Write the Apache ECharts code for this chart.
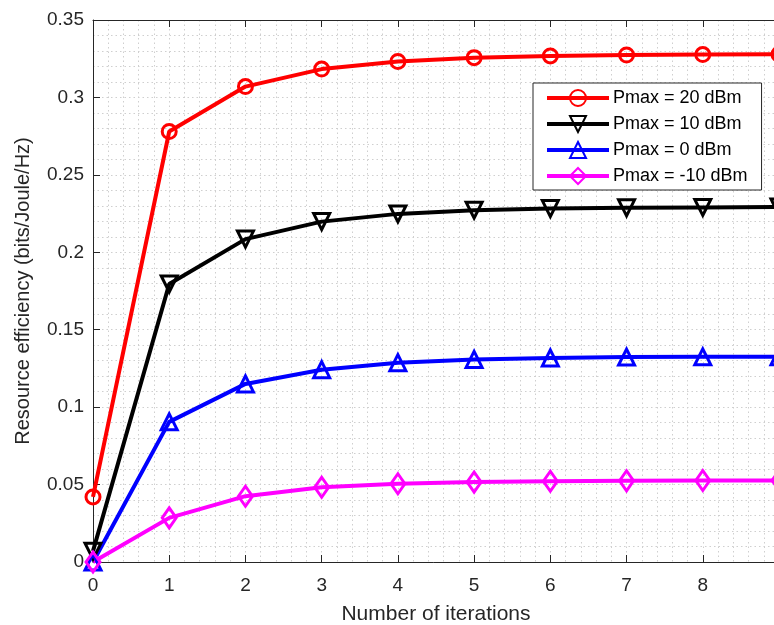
<!DOCTYPE html>
<html>
<head>
<meta charset="utf-8">
<script src="https://cdn.jsdelivr.net/npm/echarts@6/dist/echarts.min.js"></script>
<style>
  html, body { margin: 0; padding: 0; background: #fff; }
  #chart { width: 774px; height: 625px; }
</style>
</head>
<body>
<div id="chart"></div>
<script>
// Iteration index on the horizontal axis
const iterations = [0, 1, 2, 3, 4, 5, 6, 7, 8, 9];

// Resource efficiency (bits/Joule/Hz) per transmit power budget
const re20dBm  = [0.042, 0.278, 0.307, 0.3183, 0.3232, 0.3257, 0.3268, 0.3274, 0.3277, 0.3279];
const re10dBm  = [0.007, 0.1795, 0.2085, 0.2198, 0.2248, 0.2272, 0.2282, 0.2287, 0.2290, 0.2292];
const re0dBm   = [0.000, 0.0905, 0.1150, 0.1242, 0.1287, 0.1308, 0.1318, 0.1323, 0.1325, 0.1326];
const reM10dBm = [0.000, 0.0285, 0.0425, 0.0483, 0.0505, 0.0516, 0.0521, 0.0524, 0.0526, 0.0527];

const seriesNames = ['Pmax = 20 dBm', 'Pmax = 10 dBm', 'Pmax = 0 dBm', 'Pmax = -10 dBm'];

const FONT = 'Liberation Sans, Arial, Helvetica, sans-serif';
const AXIS_COLOR = '#262626';
const GRID_COLOR = '#cfcfcf';

function pairs(values) {
  return iterations.map((x, i) => [x, values[i]]);
}

function makeSeries(name, values, color, symbol, size, rotate) {
  return {
    name: name,
    type: 'line',
    data: pairs(values),
    symbol: symbol,
    symbolSize: size,
    symbolRotate: rotate || 0,
    showAllSymbol: true,
    lineStyle: { color: color, width: 4 },
    itemStyle: { color: 'rgba(255,255,255,0)', borderColor: color, borderWidth: 3 },
    emphasis: { disabled: true },
    clip: false,
    z: 3
  };
}

const chart = echarts.init(document.getElementById('chart'), null, { renderer: 'canvas' });

const gridLine = { show: true, lineStyle: { color: GRID_COLOR, type: [1.5, 3], width: 1 } };

chart.setOption({
  animation: false,
  backgroundColor: '#fff',
  textStyle: { fontFamily: FONT },
  grid: { left: 93, top: 20, width: 686, height: 542, containLabel: false, outerBoundsMode: 'none' },
  xAxis: [
    {
      type: 'value', min: 0, max: 9, interval: 1,
      position: 'bottom',
      name: 'Number of iterations',
      nameLocation: 'middle', nameGap: 42,
      nameTextStyle: { fontSize: 21, color: AXIS_COLOR, fontFamily: FONT },
      axisLine: { show: true, lineStyle: { color: AXIS_COLOR, width: 1 } },
      axisTick: { show: true, inside: true, length: 7, lineStyle: { color: AXIS_COLOR } },
      axisLabel: { fontSize: 19, color: AXIS_COLOR, margin: 14, fontFamily: FONT },
      splitLine: gridLine,
      minorTick: { show: false, splitNumber: 5 },
      minorSplitLine: gridLine
    },
    {
      type: 'value', min: 0, max: 9, interval: 1,
      position: 'top',
      axisLine: { show: true, lineStyle: { color: AXIS_COLOR, width: 1 } },
      axisTick: { show: true, inside: true, length: 7, lineStyle: { color: AXIS_COLOR } },
      axisLabel: { show: false },
      splitLine: { show: false }
    }
  ],
  yAxis: {
    type: 'value', min: 0, max: 0.35, interval: 0.05,
    name: 'Resource efficiency (bits/Joule/Hz)',
    nameLocation: 'middle', nameGap: 60,
    nameTextStyle: { fontSize: 20, color: AXIS_COLOR, fontFamily: FONT },
    axisLine: { show: true, lineStyle: { color: AXIS_COLOR, width: 1 } },
    axisTick: { show: true, inside: true, length: 7, lineStyle: { color: AXIS_COLOR } },
    axisLabel: { fontSize: 19, color: AXIS_COLOR, margin: 9, fontFamily: FONT },
    splitLine: gridLine,
    minorTick: { show: false, splitNumber: 5 },
    minorSplitLine: gridLine
  },
  legend: {
    orient: 'vertical',
    left: 533, top: 83,
    padding: [6, 14, 5, 12],
    itemWidth: 62, itemHeight: 20, itemGap: 8,
    backgroundColor: '#fff',
    borderColor: AXIS_COLOR, borderWidth: 1, borderRadius: 0,
    lineStyle: { width: 4 },
    textStyle: { fontSize: 18, color: '#000', fontFamily: FONT, padding: [0, 0, 0, -1] },
    data: seriesNames,
    selectedMode: false
  },
  series: [
    makeSeries(seriesNames[0], re20dBm, '#ff0000', 'circle', 14),
    makeSeries(seriesNames[1], re10dBm, '#000000', 'triangle', 16, 180),
    makeSeries(seriesNames[2], re0dBm, '#0000ff', 'triangle', 16),
    makeSeries(seriesNames[3], reM10dBm, '#ff00ff', 'diamond', [14, 20])
  ]
});
</script>
</body>
</html>
